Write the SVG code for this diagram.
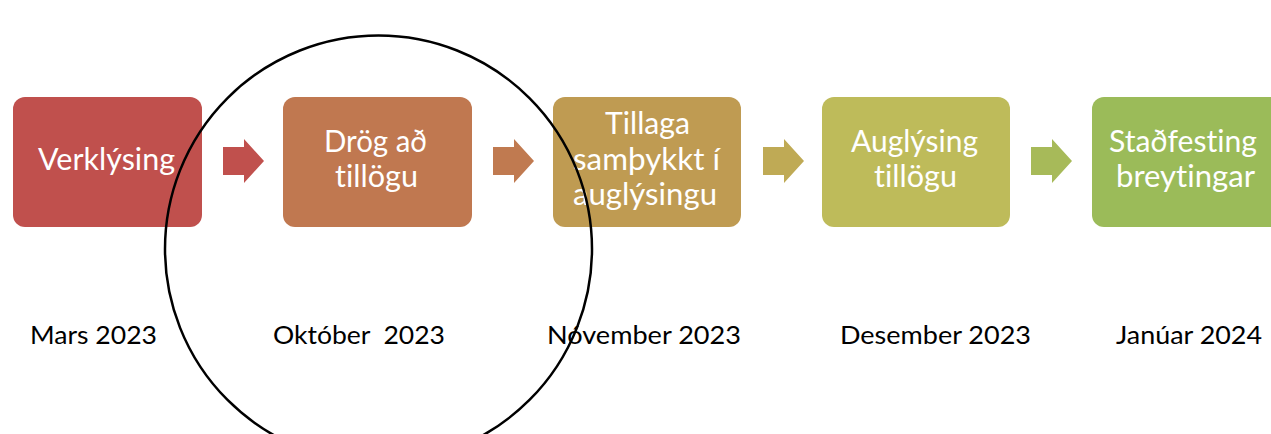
<svg xmlns="http://www.w3.org/2000/svg" width="1271" height="434" viewBox="0 0 1271 434">
<style>
.box{stroke:none}
.t{font-family:Lato,"Open Sans","Liberation Sans",sans-serif;font-size:30px;fill:#fff;text-anchor:middle;font-variant-ligatures:none}
.d{font-family:Lato,"Open Sans","Liberation Sans",sans-serif;font-size:25px;fill:#000;text-anchor:middle;font-variant-ligatures:none}
</style>
<defs>
<path id="arr" d="M0,8 H21 V0 L41,22 L21,44 V36 H0 Z"/>
</defs>
<rect width="1271" height="434" fill="#fff"/>
<g id="connectors">
<use href="#arr" x="223" y="139" fill="#C0504D"/>
<use href="#arr" x="493" y="139" fill="#C07A50"/>
<use href="#arr" x="763" y="139" fill="#BFAA55"/>
<use href="#arr" x="1031" y="139" fill="#A7BA59"/>
</g>
<g id="n1"><rect class="box" x="13" y="97" width="189" height="130" rx="12" fill="#C0504D"/><text class="t" x="106.5" y="170" textLength="137" lengthAdjust="spacingAndGlyphs">Verklýsing</text></g>
<g id="n2"><rect class="box" x="283" y="97" width="189" height="130" rx="12" fill="#C07850"/><text class="t" x="375.5" y="152" textLength="103" lengthAdjust="spacingAndGlyphs">Drög að</text><text class="t" x="376.5" y="187" textLength="83" lengthAdjust="spacingAndGlyphs">tillögu</text></g>
<g id="n3"><rect class="box" x="553" y="97" width="188" height="130" rx="12" fill="#BF9B52"/><text class="t" x="647.5" y="134" textLength="85" lengthAdjust="spacingAndGlyphs">Tillaga</text><text class="t" x="646.5" y="170" textLength="147" lengthAdjust="spacingAndGlyphs">samþykkt í</text><text class="t" x="645" y="205" textLength="144" lengthAdjust="spacingAndGlyphs">auglýsingu</text></g>
<g id="n4"><rect class="box" x="822" y="97" width="188" height="130" rx="12" fill="#BEBB5A"/><text class="t" x="914.5" y="152" textLength="127" lengthAdjust="spacingAndGlyphs">Auglýsing</text><text class="t" x="915.5" y="187" textLength="83" lengthAdjust="spacingAndGlyphs">tillögu</text></g>
<g id="n5"><rect class="box" x="1092" y="97" width="190" height="130" rx="12" fill="#9BBB59"/><text class="t" x="1183" y="152" textLength="148" lengthAdjust="spacingAndGlyphs">Staðfesting</text><text class="t" x="1185.5" y="187" textLength="139" lengthAdjust="spacingAndGlyphs">breytingar</text></g>
<g id="dates">
<text class="d" x="93.5" y="344" textLength="127" lengthAdjust="spacingAndGlyphs">Mars 2023</text>
<text class="d" x="359" y="344" xml:space="preserve" textLength="172" lengthAdjust="spacingAndGlyphs">Október  2023</text>
<text class="d" x="644" y="344" textLength="194" lengthAdjust="spacingAndGlyphs">Nóvember 2023</text>
<text class="d" x="935.5" y="344" textLength="191" lengthAdjust="spacingAndGlyphs">Desember 2023</text>
<text class="d" x="1189" y="344" textLength="146" lengthAdjust="spacingAndGlyphs">Janúar 2024</text>
</g>
<g id="circle"><circle cx="378.5" cy="249" r="213.5" fill="none" stroke="#000" stroke-width="2.5"/></g>
</svg>
